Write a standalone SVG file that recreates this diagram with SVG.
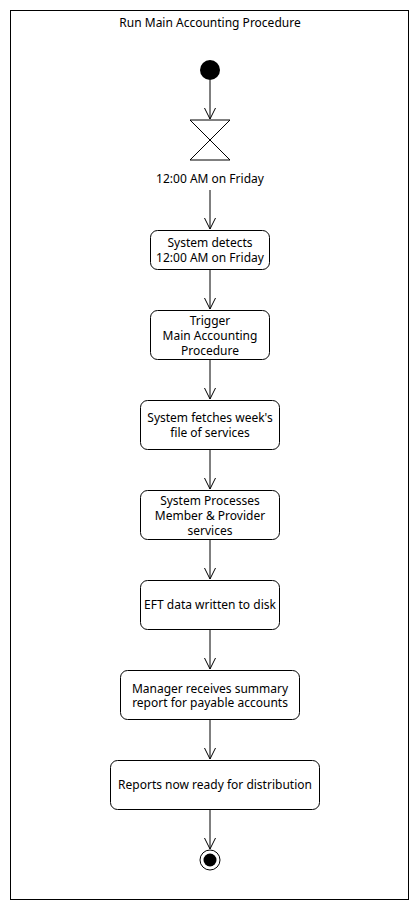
<svg xmlns="http://www.w3.org/2000/svg" width="420" height="910" viewBox="0 0 420 910">
<defs>
<marker id="arr" viewBox="0 0 12 12" refX="11" refY="6" markerWidth="12" markerHeight="12" markerUnits="userSpaceOnUse" orient="auto">
<path d="M0,0.5 L11,6 L0,11.5" fill="none" stroke="#000" stroke-width="1"/>
</marker>
</defs>
<style>
text{font-family:"Noto Sans","Open Sans",sans-serif;font-size:12px;fill:#000;text-anchor:middle}
.box{fill:#fff;stroke:#000;stroke-width:1}
.edge{stroke:#000;stroke-width:1;fill:none;marker-end:url(#arr)}
</style>
<rect x="10.5" y="10.5" width="398" height="889" fill="#fff" stroke="#000" stroke-width="1"/>
<text x="210" y="27">Run Main Accounting Procedure</text>
<g id="connectors">
<line class="edge" x1="210" y1="80" x2="210" y2="119"/>
<line class="edge" x1="210" y1="190" x2="210" y2="229"/>
<line class="edge" x1="210" y1="270" x2="210" y2="309"/>
<line class="edge" x1="210" y1="360" x2="210" y2="399"/>
<line class="edge" x1="210" y1="450" x2="210" y2="489"/>
<line class="edge" x1="210" y1="540" x2="210" y2="579"/>
<line class="edge" x1="210" y1="630" x2="210" y2="669"/>
<line class="edge" x1="210" y1="720" x2="210" y2="759"/>
<line class="edge" x1="210" y1="810" x2="210" y2="849"/>
</g>
<g id="start"><circle cx="210" cy="70" r="10" fill="#000"/></g>
<g id="timer">
<path d="M190,120 L230,120 L190,160 L230,160 Z" fill="#fff" stroke="#000" stroke-width="1"/>
<text x="210" y="183">12:00 AM on Friday</text>
</g>
<g id="detects"><rect class="box" x="150.5" y="230.5" width="119" height="39" rx="7"/>
<text><tspan x="210" y="247">System detects</tspan><tspan x="210" y="262">12:00 AM on Friday</tspan></text></g>
<g id="trigger"><rect class="box" x="150.5" y="310.5" width="119" height="49" rx="7"/>
<text><tspan x="210" y="325">Trigger</tspan><tspan x="210" y="340">Main Accounting</tspan><tspan x="210" y="355">Procedure</tspan></text></g>
<g id="fetches"><rect class="box" x="140.5" y="400.5" width="139" height="49" rx="7"/>
<text><tspan x="210" y="422">System fetches week's</tspan><tspan x="210" y="437">file of services</tspan></text></g>
<g id="processes"><rect class="box" x="140.5" y="490.5" width="139" height="49" rx="7"/>
<text><tspan x="210" y="505">System Processes</tspan><tspan x="210" y="520">Member &amp; Provider</tspan><tspan x="210" y="535">services</tspan></text></g>
<g id="eft"><rect class="box" x="140.5" y="580.5" width="139" height="49" rx="7"/>
<text x="210" y="609">EFT data written to disk</text></g>
<g id="manager"><rect class="box" x="120.5" y="670.5" width="179" height="49" rx="7"/>
<text><tspan x="210" y="693">Manager receives summary</tspan><tspan x="210" y="707">report for payable accounts</tspan></text></g>
<g id="reports"><rect class="box" x="110.5" y="760.5" width="209" height="49" rx="7"/>
<text x="215" y="789">Reports now ready for distribution</text></g>
<g id="end"><circle cx="210" cy="860" r="10" fill="#fff" stroke="#000" stroke-width="1"/><circle cx="210" cy="860" r="6.5" fill="#000"/></g>
</svg>
